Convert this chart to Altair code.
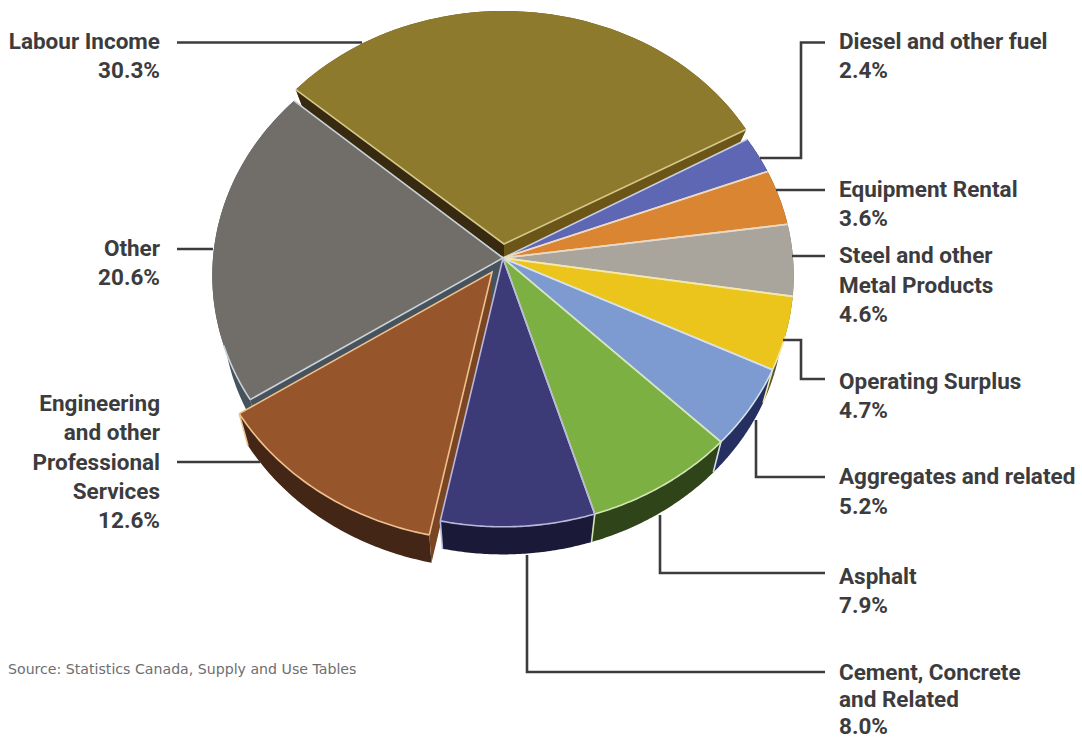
import math
import altair as alt

# Shares of spending, clockwise from the detached wedge
categories = ["Labour Income", "Diesel and other fuel", "Equipment Rental",
              "Steel and other Metal Products", "Operating Surplus",
              "Aggregates and related", "Asphalt", "Cement, Concrete and Related",
              "Engineering and other Professional Services", "Other"]
shares = [30.3, 2.4, 3.6, 4.6, 4.7, 5.2, 7.9, 8.0, 12.6, 20.6]
top_colors = ["#8d7a2c", "#5e67b3", "#d98532", "#a9a59c", "#ebc51c",
              "#7d9bd0", "#7cb042", "#3d3a78", "#96552a", "#716e6a"]
side_colors = ["#6b5618", "#2e3260", "#7a4a1a", "#6a675f", "#54552e",
               "#253060", "#2f4419", "#1a1a38", "#432615", "#46525c"]
edge_colors = ["#d5c88a", "#c9cfe8", "#f3d9b8", "#e6d9c8", "#f5e9a8",
               "#d4e0f0", "#d3e6b5", "#b9b8dc", "#efc08f", "#c8d2d8"]

# Pie geometry: perspective tilted disc seen from above
APEX = (503.0, 258.0)
START_DEG = -48.5
DROP = 37.0
SHRINK = 0.965
DISC = (290.0, 250.0, 0.07)  # x radius, y radius, perspective

# Wedges pulled out of the disc: index -> (dx, dy, disc, drop)
pulled = {0: (1.0, -14.0, (278.0, 233.0, 0.0), 14.0),
          8: (-11.0, 14.0, DISC, DROP)}


def project(deg, disc):
    rx, ry, p = disc
    t = math.radians(deg)
    u, v = math.sin(t), -math.cos(t)
    f = 1.0 / (1.0 - p * v)
    return (rx * u * f, ry * v * f)


def arc(a0, a1, disc, n=60):
    return [project(a0 + (a1 - a0) * i / n, disc) for i in range(n + 1)]


def feature(kind, coords, **props):
    return {"type": "Feature", "properties": props,
            "geometry": {"type": kind, "coordinates": coords}}


def place(points, origin, scale=1.0, drop=0.0):
    return [[origin[0] + p[0] * scale, origin[1] + p[1] * scale + drop] for p in points]


angles = [START_DEG]
for s in shares:
    angles.append(angles[-1] + s * 3.6)

sides, cuts, tops, edges = [], [], [], []
for i, s in enumerate(shares):
    a0, a1 = angles[i], angles[i + 1]
    dx, dy, disc, drop = pulled.get(i, (0.0, 0.0, DISC, DROP))
    origin = (APEX[0] + dx, APEX[1] + dy)
    hub = [origin[0], origin[1]]
    rim = arc(a0, a1, disc)
    upper = place(rim, origin)
    lower = place(rim, origin, SHRINK, drop)
    hub_low = [origin[0], origin[1] + drop]
    # outer wall
    ring = upper + lower[::-1]
    sides.append(feature("Polygon", [ring + [ring[0]]], fill=side_colors[i]))
    tip0, tip1 = upper[0], upper[-1]
    if i == 0:
        # both radial faces of the detached wedge show
        cuts.append(feature("Polygon", [[hub, tip0, lower[0], hub_low, hub]], fill="#382a10"))
        cuts.append(feature("Polygon", [[hub, tip1, lower[-1], hub_low, hub]], fill=side_colors[0]))
    if i == 8:
        cuts.append(feature("Polygon", [[hub, tip0, lower[0], hub_low, hub]], fill="#7a4522"))
    if i == 9:
        # the face exposed where the neighbouring wedge was pulled away
        cuts.append(feature("Polygon", [[hub, tip0, lower[0], hub_low, hub]], fill=side_colors[9]))
    tops.append(feature("Polygon", [[hub] + upper + [hub]], fill=top_colors[i]))
    # pale seams along both spokes and the front part of the rim
    edges.append(feature("LineString", [tip0, hub, tip1], edge=edge_colors[i]))
    if 108 < a1 and a0 < 250:
        front = place(arc(max(a0, 108), min(a1, 250), disc), origin)
        edges.append(feature("LineString", front, edge=edge_colors[i]))
    if i in (4, 5, 6, 7, 8):
        edges.append(feature("LineString", [upper[-1], lower[-1]], edge=edge_colors[i]))

# Draw order: the far side first, the tops last
solid = ([sides[0]] + cuts[:2] + [tops[0]] + [sides[9], cuts[3], sides[8]] + sides[1:8]
         + [cuts[2]] + tops[1:8] + [tops[9], tops[8]])

# Leader lines from the labels to the wedges
leaders = [
    [[177, 42.5], [362, 42.5]],
    [[177, 249], [213, 249]],
    [[177, 462], [260, 462]],
    [[825, 42.5], [801, 42.5], [801, 158], [760, 158]],
    [[825, 190], [776, 190]],
    [[825, 256], [792, 256]],
    [[825, 379], [801, 379], [801, 340], [783, 340]],
    [[825, 477], [756, 477], [756, 420]],
    [[825, 573], [660, 573], [660, 515]],
    [[825, 672], [527, 672], [527, 555]],
]

left_labels = [
    ("Labour Income", 49), ("30.3%", 78),
    ("Other", 256), ("20.6%", 285),
    ("Engineering", 411), ("and other", 440), ("Professional", 470),
    ("Services", 499), ("12.6%", 528),
]
right_labels = [
    ("Diesel and other fuel", 49), ("2.4%", 78),
    ("Equipment Rental", 197), ("3.6%", 226),
    ("Steel and other", 263), ("Metal Products", 293), ("4.6%", 322),
    ("Operating Surplus", 389), ("4.7%", 418),
    ("Aggregates and related", 484), ("5.2%", 514),
    ("Asphalt", 584), ("7.9%", 613),
    ("Cement, Concrete", 680), ("and Related", 707), ("8.0%", 734),
]
source_note = "Source: Statistics Canada, Supply and Use Tables"

LABEL_FONT = "Roboto"
INK = "#3c3c3e"
flat = alt.Projection(type="identity", scale=1, translate=[0, 0])


def geo_values(features):
    return alt.Data(values={"type": "FeatureCollection", "features": features},
                    format=alt.DataFormat(property="features", type="json"))


fills = alt.Chart(geo_values(solid)).mark_geoshape(strokeWidth=0).encode(
    fill=alt.Fill("properties.fill:N", scale=None)).project(**flat.to_dict())
seams = alt.Chart(geo_values(edges)).mark_geoshape(filled=False, strokeWidth=1.6, strokeJoin="miter").encode(
    stroke=alt.Stroke("properties.edge:N", scale=None)).project(**flat.to_dict())
leader_lines = alt.Chart(geo_values([feature("LineString", l) for l in leaders])).mark_geoshape(
    filled=False, stroke=INK, strokeWidth=2.6, strokeJoin="miter").project(**flat.to_dict())


def text_layer(rows, x, align, font, size, weight, color):
    data = alt.Data(values=[{"label": t, "px": x, "py": y} for t, y in rows])
    return alt.Chart(data).mark_text(
        align=align, baseline="alphabetic", font=font, fontSize=size, fontWeight=weight, color=color
    ).encode(longitude="px:Q", latitude="py:Q", text="label:N").project(**flat.to_dict())


chart = alt.layer(
    fills, seams, leader_lines,
    text_layer(left_labels, 160, "right", LABEL_FONT, 22.5, "bold", INK),
    text_layer(right_labels, 839, "left", LABEL_FONT, 22.5, "bold", INK),
    text_layer([(source_note, 674)], 8, "left", "DejaVu Sans", 14.15, "normal", "#6d6e71"),
).properties(width=1082, height=740, padding=0, autosize="none", background="white"
).configure_view(stroke=None)

chart.save("out.html", embed_options={"renderer": "svg", "actions": False})
